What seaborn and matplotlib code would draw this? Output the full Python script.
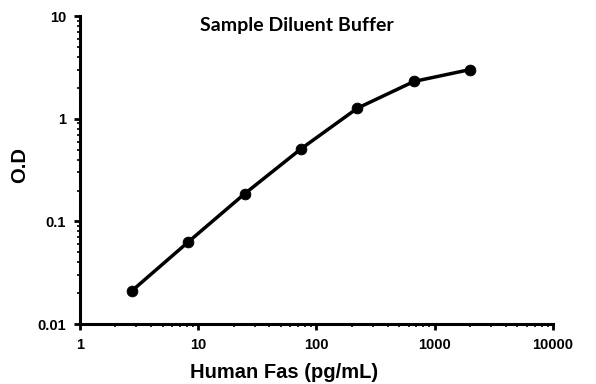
import numpy as np
import pandas as pd
import seaborn as sns
import matplotlib.pyplot as plt
from matplotlib.ticker import LogLocator, FixedLocator, FixedFormatter

# standard curve values
conc = [2.74, 8.23, 24.7, 74.1, 222.2, 666.7, 2000]
od = [0.021, 0.063, 0.186, 0.51, 1.27, 2.31, 3.02]
x_ticks = [1, 10, 100, 1000, 10000]
x_labels = ['1', '10', '100', '1000', '10000']
y_ticks = [0.01, 0.1, 1, 10]
y_labels = ['0.01', '0.1', '1', '10']

data = pd.DataFrame({'conc': conc, 'od': od})

sns.set_style('white')
plt.rcParams['font.family'] = ['Liberation Sans', 'DejaVu Sans']
plt.rcParams['text.color'] = 'black'
plt.rcParams['xtick.color'] = 'black'
plt.rcParams['ytick.color'] = 'black'

fig = plt.figure(figsize=(5.96, 3.84), dpi=100)
ax = fig.add_axes([0.134, 0.156, 0.794, 0.802])

sns.lineplot(x='conc', y='od', data=data, ax=ax, color='black', linewidth=2.5)
sns.scatterplot(x='conc', y='od', data=data, ax=ax, color='black', s=60,
                edgecolor='black', zorder=3)

ax.set_xscale('log')
ax.set_yscale('log')
ax.set_xlim(1, 10000)
ax.set_ylim(0.01, 10)

ax.xaxis.set_major_locator(FixedLocator(x_ticks))
ax.xaxis.set_major_formatter(FixedFormatter(x_labels))
ax.yaxis.set_major_locator(FixedLocator(y_ticks))
ax.yaxis.set_major_formatter(FixedFormatter(y_labels))
ax.xaxis.set_minor_locator(LogLocator(base=10, subs=np.arange(2, 10), numticks=20))
ax.yaxis.set_minor_locator(LogLocator(base=10, subs=np.arange(2, 10), numticks=20))
ax.xaxis.set_minor_formatter(plt.NullFormatter())
ax.yaxis.set_minor_formatter(plt.NullFormatter())

for side in ['top', 'right']:
    ax.spines[side].set_visible(False)
for side in ['left', 'bottom']:
    ax.spines[side].set_linewidth(2.2)
    ax.spines[side].set_color('black')

ax.tick_params(which='major', direction='out', length=4, width=2, color='black',
               labelcolor='black', labelsize=10.5, pad=6, bottom=True, left=True)
ax.tick_params(which='minor', direction='out', length=2, width=1.2, color='black',
               bottom=True, left=True)
for lbl in ax.get_xticklabels() + ax.get_yticklabels():
    lbl.set_fontweight('bold')

# axis labels placed where the reference has them (x label sits left of centre)
ax.set_xlabel('')
ax.set_ylabel('')
fig.text(284 / 596, 1 - 378 / 384, 'Human Fas (pg/mL)', fontsize=14.5,
         fontweight='bold', ha='center', va='baseline', color='black')
fig.text(19.5 / 596, 1 - 165 / 384, 'O.D', fontsize=14.5, fontweight='bold',
         rotation=90, ha='center', va='center', color='black')
fig.text(200 / 596, 1 - 25 / 384, 'Sample Diluent Buffer',
         fontsize=14, fontweight='bold', family=['Lato', 'DejaVu Sans'],
         ha='left', va='center', color='black')

fig.savefig('out.png', dpi=100)
